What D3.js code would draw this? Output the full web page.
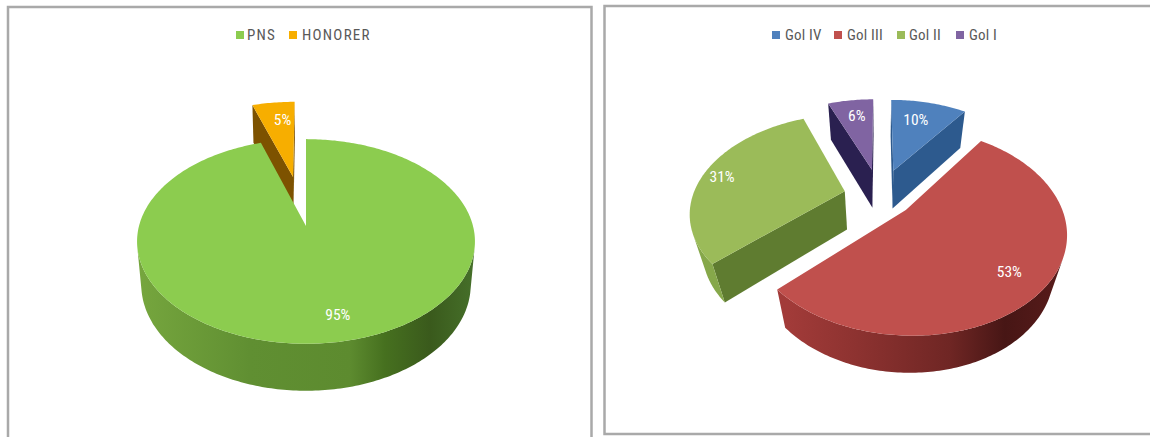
<!DOCTYPE html>
<html>
<head>
<meta charset="utf-8">
<title>Komposisi pegawai</title>
<script src="https://cdn.jsdelivr.net/npm/d3@7"></script>
<style>
  html, body { margin: 0; background: #fff; }
  svg { display: block; }
  text { font-family: "Liberation Sans Narrow", "Roboto Condensed", Lato, sans-serif; }
</style>
</head>
<body>
<svg id="chart" width="1150" height="437"></svg>
<script>
// Employment status split
const statusCategories = ["PNS", "HONORER"];
const statusValues = [95, 5];
// Civil-service grade split
const gradeCategories = ["Gol IV", "Gol III", "Gol II", "Gol I"];
const gradeValues = [10, 53, 31, 6];

const svg = d3.select("#chart");
const defs = svg.append("defs");
const polygon = d3.line().curve(d3.curveLinearClosed);
const pieLayout = d3.pie().sort(null).startAngle(0).endAngle(2 * Math.PI);

// Perspective mapping of a disc onto the page: far points shrink, near points grow.
function makeProjection({cx, cy, a, b, k, drop, taper}) {
  return (X, Y, z) => {
    const w = 1 - k * Y + taper * z;
    return [cx + a * X / w, cy + (b * Y + drop * z) / w];
  };
}

function horizontalGradient(id, stops) {
  const g = defs.append("linearGradient").attr("id", id)
    .attr("gradientUnits", "userSpaceOnUse")
    .attr("x1", stops[0][0]).attr("x2", stops[stops.length - 1][0])
    .attr("y1", 0).attr("y2", 0);
  const pos = d3.scaleLinear().domain([stops[0][0], stops[stops.length - 1][0]]).range([0, 1]);
  stops.forEach(s => g.append("stop").attr("offset", pos(s[0])).attr("stop-color", s[1]));
  return `url(#${id})`;
}

// Signed area in page coordinates (y pointing down)
function shoelace(pts) {
  return -d3.polygonArea(pts);
}

function drawPie(values, styles, proj, drawOrder) {
  const arcs = pieLayout(values);
  const layer = svg.append("g");

  const sliceGeometry = i => {
    const s = arcs[i], st = styles[i];
    const mid = (s.startAngle + s.endAngle) / 2;
    const ox = st.explode * Math.sin(mid), oy = -st.explode * Math.cos(mid);
    const at = (theta, r, z) => proj(r * Math.sin(theta) + ox, -r * Math.cos(theta) + oy, z);
    const angles = d3.range(0, 1.0001, 1 / Math.max(8, Math.ceil((s.endAngle - s.startAngle) * 60)))
      .map(d3.interpolateNumber(s.startAngle, s.endAngle));
    return {s, st, mid, at, angles};
  };

  drawOrder.forEach(i => {
    const {s, st, at, angles} = sliceGeometry(i);

    // Cut faces running from the centre out to the rim
    [[s.startAngle, -1], [s.endAngle, 1]].forEach(([theta, side]) => {
      const quad = [at(theta, 0, 0), at(theta, 1, 0), at(theta, 1, 1), at(theta, 0, 1)];
      if (shoelace(quad) * side > 0) {
        layer.append("path").attr("d", polygon(quad)).attr("fill", st.cut);
      }
    });

    // Outer wall, only the stretches that face the viewer
    let run = [];
    const flush = () => {
      if (run.length > 1) {
        const ring = run.map(t => at(t, 1, 0)).concat(run.slice().reverse().map(t => at(t, 1, 1)));
        layer.append("path").attr("d", polygon(ring)).attr("fill", st.wall);
      }
      run = [];
    };
    angles.forEach((t, j) => {
      const next = angles[j + 1];
      if (next === undefined) return;
      const q = [at(t, 1, 0), at(next, 1, 0), at(next, 1, 1), at(t, 1, 1)];
      if (shoelace(q) < 0) {
        if (!run.length) run.push(t);
        run.push(next);
      } else flush();
    });
    flush();

    // Top face
    const top = [at(0, 0, 0)].concat(angles.map(t => at(t, 1, 0)));
    layer.append("path").attr("d", polygon(top)).attr("fill", st.top);
  });

  // Percentage labels
  arcs.forEach((s, i) => {
    const {st, at} = sliceGeometry(i);
    const [x, y] = at(st.labelAngle, st.labelRadius, 0);
    svg.append("text").attr("x", x).attr("y", y)
      .attr("text-anchor", "middle").attr("dominant-baseline", "central")
      .attr("fill", "#ffffff").attr("font-size", 15.5)
      .text(`${values[i]}%`);
  });
}

function drawLegend(names, colors, swatchX, textX, spacing) {
  names.forEach((name, i) => {
    svg.append("rect").attr("x", swatchX[i] - 4).attr("y", 31)
      .attr("width", 8).attr("height", 8).attr("fill", colors[i]);
    svg.append("text").attr("x", textX[i]).attr("y", 35)
      .attr("dominant-baseline", "central")
      .attr("fill", "#595959").attr("font-size", 15).attr("letter-spacing", spacing)
      .text(name);
  });
}

// Panel frames
const frame = "#a9a9a9";
const framePath = d3.line();
svg.append("path").attr("d", framePath([[8, 437], [8, 7], [591.5, 7], [591.5, 437]]))
  .attr("fill", "none").attr("stroke", frame).attr("stroke-width", 2.5);
svg.append("path").attr("d", framePath([[1150, 6], [604.5, 6], [604.5, 434], [1150, 434]]))
  .attr("fill", "none").attr("stroke", frame).attr("stroke-width", 2.5);

// Left pie
const statusProjection = makeProjection({cx: 306, cy: 226, a: 167, b: 100, k: 0.151, drop: 44, taper: 0.025});
const statusStyles = [
  {
    top: "#8ccc4f", cut: "#5a8a2c", explode: 0, labelAngle: 2.93, labelRadius: 0.8,
    wall: horizontalGradient("wallPns", [
      [137, "#76a63e"], [250, "#608f32"], [350, "#5d8b2f"], [385, "#46701f"], [430, "#3a5a1c"], [475, "#46702a"]
    ])
  },
  {top: "#f7ae00", cut: "#7d5200", wall: "#7d5200", explode: 0.535, labelAngle: 6.17, labelRadius: 0.74}
];
drawPie(statusValues, statusStyles, statusProjection, [1, 0]);
drawLegend(statusCategories, ["#8ccc4f", "#f7ae00"], [240, 293], [247, 302], 1.25);

// Right pie
const gradeProjection = makeProjection({cx: 880, cy: 196, a: 152, b: 94, k: 0.2, drop: 41, taper: 0.07});
const gradeStyles = [
  {top: "#4f81bd", cut: "#2d5a8e", wall: "#2d5a8e", explode: 0.3, labelAngle: 0.27, labelRadius: 0.706},
  {
    top: "#c0504d", cut: "#7a2a28", explode: 0.22, labelAngle: 2.34, labelRadius: 0.79,
    wall: horizontalGradient("wallGol3", [
      [787, "#a23b39"], [850, "#8f3331"], [950, "#6f2624"], [1005, "#471615"], [1067, "#5a1c1b"]
    ])
  },
  {top: "#9bbb59", cut: "#5f7c30", wall: "#86a84a", explode: 0.24, labelAngle: 4.9, labelRadius: 0.864},
  {top: "#8064a2", cut: "#2a2050", wall: "#2a2050", explode: 0.3, labelAngle: 6.11, labelRadius: 0.742}
];
drawPie(gradeValues, gradeStyles, gradeProjection, [3, 0, 2, 1]);
drawLegend(gradeCategories, gradeStyles.map(d => d.top), [776, 838, 901, 960], [785, 847, 909, 969], 0.2);
</script>
</body>
</html>
